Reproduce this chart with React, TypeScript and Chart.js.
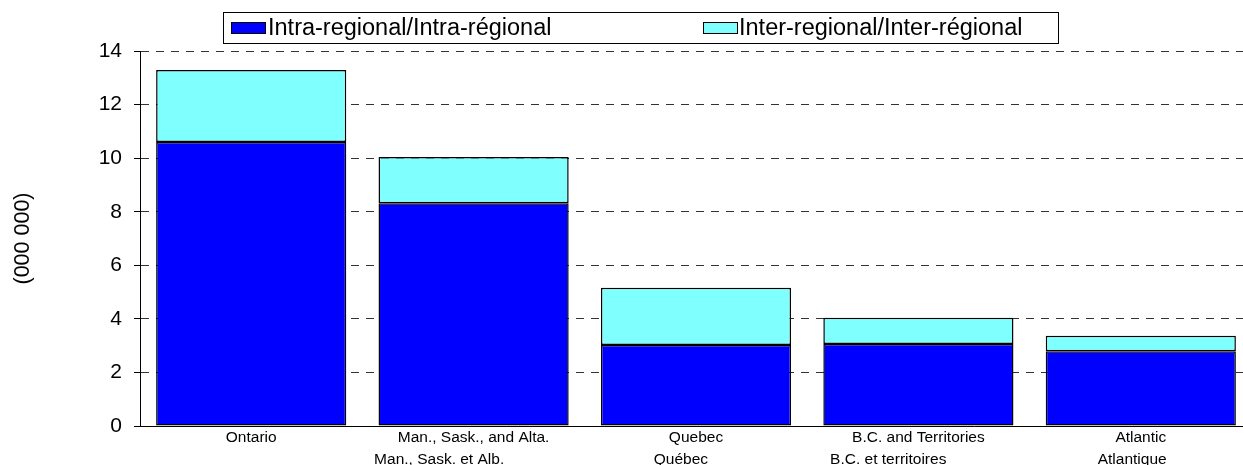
import React, { useEffect, useRef } from 'react';
import { Chart, registerables } from 'chart.js';

Chart.register(...registerables);

// ---- data ----
const REGIONS_EN = ['Ontario', 'Man., Sask., and Alta.', 'Quebec', 'B.C. and Territories', 'Atlantic'];
const REGIONS_FR = ['', 'Man., Sask. et Alb.', 'Québec', 'B.C. et territoires', 'Atlantique'];
const INTRA_REGIONAL = [10.6, 8.32, 3.02, 3.06, 2.79];
const INTER_REGIONAL = [2.69, 1.72, 2.14, 0.98, 0.58];
const SERIES_NAMES = ['Intra-regional/Intra-régional', 'Inter-regional/Inter-régional'];
const Y_MIN = 0;
const Y_MAX = 14;
const Y_STEP = 2;
const Y_TITLE = '(000 000)';

// ---- style ----
const FONT = '"Liberation Sans", Arial, Helvetica, sans-serif';
const COLORS = ['#0000FF', '#80FFFF'];
const FR_SHIFT_SPACES = [0, 16, 7, 14, 4];

const legendBox = {
  id: 'legendBox',
  afterDraw(chart: any) {
    const ctx = chart.ctx as CanvasRenderingContext2D;
    ctx.save();
    ctx.strokeStyle = '#000';
    ctx.lineWidth = 1;
    ctx.strokeRect(223.5, 12.5, 835, 31);
    const swatchX = [231, 703];
    const textX = [268, 739];
    ctx.font = `23.5px ${FONT}`;
    ctx.textBaseline = 'middle';
    ctx.textAlign = 'left';
    chart.data.datasets.forEach((ds: any, i: number) => {
      ctx.fillStyle = ds.backgroundColor;
      ctx.fillRect(swatchX[i], 22, 34, 11);
      ctx.strokeRect(swatchX[i] + 0.5, 22.5, 34, 11);
      ctx.fillStyle = '#000';
      ctx.fillText(ds.label, textX[i], 29);
    });
    ctx.restore();
  },
};

export default function App() {
  const ref = useRef<HTMLCanvasElement | null>(null);

  useEffect(() => {
    if (!ref.current) return;
    const labels = REGIONS_EN.map((en, i) =>
      REGIONS_FR[i] ? [en, REGIONS_FR[i] + ' '.repeat(FR_SHIFT_SPACES[i])] : [en]
    );
    const chart = new Chart(ref.current, {
      type: 'bar',
      data: {
        labels,
        datasets: [
          {
            label: SERIES_NAMES[0],
            data: INTRA_REGIONAL,
            backgroundColor: COLORS[0],
            borderColor: '#000',
            borderWidth: 1.5,
            borderSkipped: false,
          },
          {
            label: SERIES_NAMES[1],
            data: INTER_REGIONAL,
            backgroundColor: COLORS[1],
            borderColor: '#000',
            borderWidth: 1.5,
            borderSkipped: false,
          },
        ],
      },
      options: {
        responsive: false,
        animation: false,
        datasets: { bar: { categoryPercentage: 1, barPercentage: 0.855 } },
        layout: { padding: { top: 51, left: 0, right: 0, bottom: 0 } },
        plugins: {
          legend: { display: false },
          tooltip: { enabled: false },
        },
        scales: {
          x: {
            stacked: true,
            grid: { display: false, drawTicks: false },
            border: { display: true, color: '#000', width: 1 },
            ticks: {
              color: '#000',
              font: { family: FONT, size: 15.5, lineHeight: 1.4 },
              padding: 1,
              maxRotation: 0,
              autoSkip: false,
            },
            afterFit: (scale: any) => {
              scale.height = 39;
            },
          },
          y: {
            stacked: true,
            min: Y_MIN,
            max: Y_MAX,
            ticks: {
              stepSize: Y_STEP,
              color: '#000',
              font: { family: FONT, size: 21 },
              padding: 12,
            },
            grid: {
              color: '#333',
              lineWidth: 1,
              drawTicks: true,
              tickLength: 6,
              tickColor: '#000',
            },
            border: { display: true, color: '#000', width: 1, dash: [8, 7] },
            title: {
              display: true,
              text: Y_TITLE,
              color: '#000',
              font: { family: FONT, size: 21.5 },
              padding: { top: 10, bottom: 0 },
            },
            afterFit: (scale: any) => {
              scale.width = 140;
            },
          },
        },
      },
      plugins: [legendBox],
    });
    return () => chart.destroy();
  }, []);

  return (
    <div
      style={{
        position: 'fixed',
        left: 0,
        top: 0,
        width: 1243,
        height: 465,
        overflow: 'hidden',
        background: '#fff',
      }}
    >
      <canvas ref={ref} width={1252} height={465} style={{ display: 'block' }} />
    </div>
  );
}
